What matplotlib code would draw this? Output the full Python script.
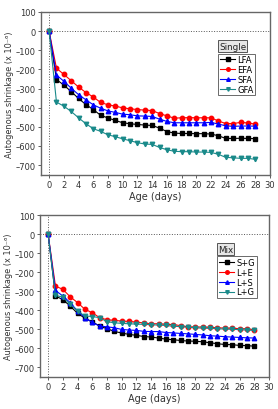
import numpy as np
import matplotlib
matplotlib.use("Agg")
import matplotlib.pyplot as plt

days = list(range(0, 29))

# Single
lfa = [0, -253, -282, -316, -352, -384, -410, -440, -454, -467, -479, -484, -488, -491, -493,
       -507, -525, -533, -535, -535, -536, -536, -538, -547, -561, -561, -560, -561, -562]
efa = [0, -194, -226, -259, -292, -321, -344, -373, -385, -392, -401, -406, -410, -413, -415,
       -431, -443, -455, -453, -452, -453, -453, -453, -470, -483, -483, -477, -480, -486]
sfa = [0, -229, -262, -298, -332, -359, -385, -403, -417, -425, -434, -437, -443, -444, -446,
       -460, -472, -479, -479, -479, -479, -479, -477, -486, -495, -498, -496, -496, -497]
gfa = [0, -371, -392, -420, -453, -484, -510, -524, -542, -552, -563, -573, -583, -590, -592,
       -608, -620, -628, -630, -630, -632, -632, -634, -644, -660, -662, -665, -665, -670]

# Mix
sg = [0, -326, -345, -379, -417, -443, -462, -484, -498, -512, -521, -528, -533, -539, -542,
      -547, -553, -556, -560, -563, -564, -567, -572, -577, -581, -582, -586, -587, -590]
le = [0, -274, -291, -330, -361, -396, -414, -440, -451, -454, -458, -460, -463, -468, -472,
      -472, -475, -476, -482, -488, -489, -489, -491, -493, -495, -495, -498, -498, -504]
ls = [0, -297, -326, -361, -405, -440, -465, -484, -488, -493, -502, -505, -507, -512, -513,
      -513, -518, -520, -523, -525, -528, -531, -535, -537, -540, -542, -544, -546, -547]
lg = [0, -323, -332, -370, -405, -431, -434, -440, -461, -467, -470, -472, -474, -475, -477,
      -479, -481, -485, -487, -491, -493, -495, -496, -498, -500, -501, -503, -505, -507]

colors = ["black", "red", "blue", "#1a8a8a"]
markers = ["s", "o", "^", "v"]

fig = plt.figure(figsize=(2.78, 4.10), dpi=100)
ax1 = fig.add_axes([41 / 278, 1 - 176 / 410, 229 / 278, 163 / 410])
ax2 = fig.add_axes([40 / 278, 1 - 378 / 410, 229 / 278, 162 / 410])


def draw(ax, series, names, title):
    ax.axhline(0, color="#555555", ls=":", lw=0.7, zorder=1)
    ax.axvline(0, color="#555555", ls=":", lw=0.7, zorder=1)
    for y, c, m, n in zip(series, colors, markers, names):
        ax.plot(days, y, color=c, marker=m, ms=3.2, lw=0.8, label=n, zorder=3)
    ax.set_xlim(-1.1, 30)
    ax.set_ylim(-752, 100)
    ax.set_xticks(range(0, 31, 2))
    ax.set_yticks(range(-700, 101, 100))
    ax.set_yticklabels([str(v).replace("-", "\u2013") for v in range(-700, 101, 100)])
    ax.tick_params(labelsize=6.0, length=2.5, width=0.6, color="#444444", pad=1.2,
                   labelcolor="#333333")
    for s in ax.spines.values():
        s.set_color("#666666")
        s.set_linewidth(1.0)
    ax.set_xlabel("Age (days)", fontsize=7, color="#333333", labelpad=1)
    ax.set_ylabel("Autogenous shrinkage (x 10\u207b\u2076)", fontsize=5.9, color="#333333")
    ax.yaxis.set_label_coords(-0.118, 0.5)
    ax.text(0.777, 0.79, title, transform=ax.transAxes, fontsize=6.3, color="#222222",
            va="center", ha="left",
            bbox=dict(boxstyle="square,pad=0.15", fc="#e6e6e6", ec="#555555", lw=0.7))
    leg = ax.legend(loc="upper left", bbox_to_anchor=(0.775, 0.745), fontsize=6.0,
                    frameon=True, fancybox=False, handlelength=1.8, handletextpad=0.25,
                    borderpad=0.2, labelspacing=0.1, borderaxespad=0, markerscale=0.8)
    leg.get_frame().set_edgecolor("#444444")
    leg.get_frame().set_linewidth(0.7)


draw(ax1, [lfa, efa, sfa, gfa], ["LFA", "EFA", "SFA", "GFA"], "Single")
draw(ax2, [sg, le, ls, lg], ["S+G", "L+E", "L+S", "L+G"], "Mix")

fig.savefig("out.png", dpi=100)
